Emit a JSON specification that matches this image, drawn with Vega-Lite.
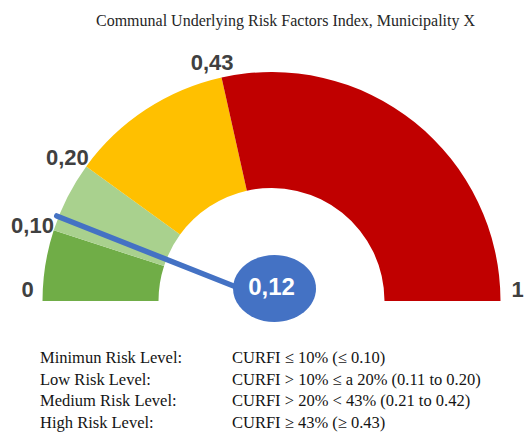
{
  "$schema": "https://vega.github.io/schema/vega-lite/v6.json",
  "width": 525,
  "height": 405,
  "autosize": {"type": "none"},
  "padding": {"top": 30, "left": 0, "right": 0, "bottom": 0},
  "background": "white",
  "title": {
    "text": "Communal Underlying Risk Factors Index, Municipality X",
    "font": "Liberation Serif",
    "fontSize": 16,
    "fontWeight": "normal",
    "color": "#262626",
    "anchor": "middle",
    "dx": 23,
    "offset": 1
  },
  "config": {"view": {"stroke": null}},
  "datasets": {
    "segments": [
      {"level": "Minimum", "lo": 0, "hi": 0.10},
      {"level": "Low", "lo": 0.10, "hi": 0.20},
      {"level": "Medium", "lo": 0.20, "hi": 0.43},
      {"level": "High", "lo": 0.43, "hi": 1}
    ],
    "needle": [{"v": 0.12, "label": "0,12"}],
    "ticks": [
      {"v": 0, "label": "0"},
      {"v": 0.10, "label": "0,10"},
      {"v": 0.20, "label": "0,20"},
      {"v": 0.43, "label": "0,43"},
      {"v": 1, "label": "1"}
    ],
    "legend": [
      {"row": 1, "level": "Minimun Risk Level:", "criterion": "CURFI ≤ 10% (≤ 0.10)"},
      {"row": 2, "level": "Low Risk Level:", "criterion": "CURFI > 10%  ≤ a 20% (0.11 to 0.20)"},
      {"row": 3, "level": "Medium Risk Level:", "criterion": "CURFI > 20% < 43% (0.21 to 0.42)"},
      {"row": 4, "level": "High Risk Level:", "criterion": "CURFI  ≥ 43% (≥ 0.43)"}
    ]
  },
  "layer": [
    {
      "layer": [
        {
          "data": {"name": "segments"},
          "mark": {"type": "arc", "radius": 229, "radius2": 113},
          "encoding": {
            "x": {"datum": 0, "type": "quantitative", "scale": {"domain": [-1.1908, 1.1118], "nice": false, "zero": false}, "axis": null},
            "y": {"datum": 0, "type": "quantitative", "scale": {"domain": [-0.5877, 1.1886], "nice": false, "zero": false}, "axis": null},
            "theta": {"field": "lo", "type": "quantitative", "stack": null, "scale": {"domain": [0, 1], "range": [-1.5708, 1.5708]}},
            "theta2": {"field": "hi"},
            "color": {
              "field": "level",
              "type": "nominal",
              "scale": {"domain": ["Minimum", "Low", "Medium", "High"], "range": ["#70AD47", "#A9D18E", "#FFC000", "#C00000"]},
              "legend": null
            }
          }
        },
        {
          "data": {"name": "needle"},
          "mark": {"type": "arc", "radius": 231, "radius2": 0, "fillOpacity": 0, "stroke": "#4472C4", "strokeWidth": 5.5, "strokeCap": "round", "strokeJoin": "round"},
          "encoding": {
            "x": {"datum": 0, "type": "quantitative"},
            "y": {"datum": 0, "type": "quantitative"},
            "theta": {"field": "v", "type": "quantitative", "stack": null},
            "theta2": {"field": "v"}
          }
        },
        {
          "data": {"name": "needle"},
          "mark": {"type": "point", "shape": "M-1,0A1,0.807,0,1,1,1,0A1,0.807,0,1,1,-1,0Z", "size": 6889, "filled": true, "color": "#4472C4", "opacity": 1, "xOffset": 3, "yOffset": -12.5},
          "encoding": {
            "x": {"datum": 0, "type": "quantitative"},
            "y": {"datum": 0, "type": "quantitative"}
          }
        },
        {
          "data": {"name": "needle"},
          "mark": {"type": "text", "font": "Liberation Sans", "fontSize": 24, "fontWeight": "bold", "color": "white", "align": "center", "baseline": "middle", "dy": -13},
          "encoding": {
            "x": {"datum": 0, "type": "quantitative"},
            "y": {"datum": 0, "type": "quantitative"},
            "text": {"field": "label"}
          }
        },
        {
          "data": {"name": "ticks"},
          "transform": [{"filter": "datum.v > 0 && datum.v < 1"}],
          "mark": {"type": "text", "font": "Liberation Sans", "fontSize": 22, "fontWeight": "bold", "color": "#404040", "align": "center", "baseline": "middle", "radius": 245, "dx": -6, "dy": 1},
          "encoding": {
            "x": {"datum": 0, "type": "quantitative"},
            "y": {"datum": 0, "type": "quantitative"},
            "theta": {"field": "v", "type": "quantitative", "stack": null},
            "text": {"field": "label"}
          }
        },
        {
          "data": {"name": "ticks"},
          "transform": [{"filter": "datum.v == 0 || datum.v == 1"}],
          "mark": {"type": "text", "font": "Liberation Sans", "fontSize": 22, "fontWeight": "bold", "color": "#404040", "align": "center", "baseline": "middle", "radius": 245, "dx": 1, "dy": -11},
          "encoding": {
            "x": {"datum": 0, "type": "quantitative"},
            "y": {"datum": 0, "type": "quantitative"},
            "theta": {"field": "v", "type": "quantitative", "stack": null},
            "text": {"field": "label"}
          }
        }
      ]
    },
    {
      "data": {"name": "legend"},
      "transform": [{"fold": ["level", "criterion"], "as": ["column", "text"]}],
      "mark": {"type": "text", "align": "left", "baseline": "middle", "font": "Liberation Serif", "fontSize": 16.5, "color": "#141414"},
      "encoding": {
        "x": {"field": "column", "type": "nominal", "scale": {"type": "point", "domain": ["level", "criterion"], "range": [40, 232], "padding": 0}, "axis": null},
        "y": {"field": "row", "type": "ordinal", "scale": {"type": "point", "domain": [1, 2, 3, 4], "range": [328, 393], "padding": 0}, "axis": null},
        "text": {"field": "text"}
      }
    }
  ],
  "resolve": {"scale": {"x": "independent", "y": "independent"}}
}
